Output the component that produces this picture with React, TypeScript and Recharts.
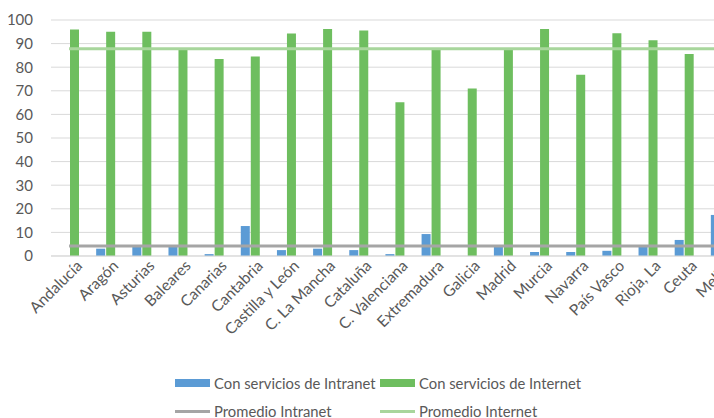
import React from "react";
import {
  ComposedChart,
  Bar,
  Line,
  XAxis,
  YAxis,
  CartesianGrid,
} from "recharts";

const regiones = [
  "Andalucía",
  "Aragón",
  "Asturias",
  "Baleares",
  "Canarias",
  "Cantabria",
  "Castilla y León",
  "C. La Mancha",
  "Cataluña",
  "C. Valenciana",
  "Extremadura",
  "Galicia",
  "Madrid",
  "Murcia",
  "Navarra",
  "País Vasco",
  "Rioja, La",
  "Ceuta",
  "Melilla",
];

const intranet = [0, 3.1, 4, 4, 0.8, 12.7, 2.5, 3.1, 2.5, 0.8, 9.3, 0, 4, 1.7, 1.7, 2.2, 4, 6.8, 17.4];
const internet = [96, 95, 95, 88, 83.5, 84.5, 94.3, 96.2, 95.5, 65.1, 87.3, 71, 87.3, 96.2, 76.8, 94.4, 91.4, 85.6, 85];
const promedioIntranet = 4.2;
const promedioInternet = 87.8;

const yTicks = [0, 10, 20, 30, 40, 50, 60, 70, 80, 90, 100];

const data = regiones.map((r, i) => ({
  region: r,
  intranet: intranet[i],
  internet: internet[i],
  pIntranet: promedioIntranet,
  pInternet: promedioInternet,
}));

const BLUE = "#5b9bd5";
const GREEN = "#6ebe5f";
const GRAY = "#a5a5a5";
const LGREEN = "#a8d69c";
const TEXT = "#595959";
const FONT = "Lato, 'Open Sans', sans-serif";

const XTick = (props: any) => {
  const { x, y, payload } = props;
  return (
    <g transform={`translate(${x},${y})`}>
      <text
        x={0}
        y={0}
        dx={8}
        dy={12}
        textAnchor="end"
        transform="rotate(-45)"
        fill={TEXT}
        fontSize={15.5}
        fontFamily={FONT}
      >
        {payload.value}
      </text>
    </g>
  );
};

const legendItems = [
  { label: "Con servicios de Intranet", color: BLUE, kind: "rect", left: 175, top: 374 },
  { label: "Con servicios de Internet", color: GREEN, kind: "rect", left: 380, top: 374 },
  { label: "Promedio Intranet", color: GRAY, kind: "line", left: 175, top: 402 },
  { label: "Promedio Internet", color: LGREEN, kind: "line", left: 380, top: 402 },
];

const ChartLegend = () => (
  <>
    {legendItems.map((it) => (
      <div
        key={it.label}
        style={{
          position: "absolute",
          left: it.left,
          top: it.top,
          height: 18,
          display: "flex",
          alignItems: "center",
          whiteSpace: "nowrap",
          fontFamily: FONT,
          fontSize: 14.8,
          color: TEXT,
        }}
      >
        <span
          style={{
            display: "inline-block",
            width: 35,
            height: it.kind === "rect" ? 8 : 3,
            background: it.color,
            marginRight: 4,
          }}
        />
        {it.label}
      </div>
    ))}
  </>
);

export default function App() {
  return (
    <div
      style={{
        position: "absolute",
        left: 0,
        top: 0,
        width: 714,
        height: 418,
        overflow: "hidden",
        background: "#fff",
      }}
    >
      <ComposedChart
        width={760}
        height={366}
        data={data}
        margin={{ top: 20, right: 22, left: 0, bottom: 0 }}
        barSize={9}
        barGap={1}
      >
        <CartesianGrid vertical={false} stroke="#d9d9d9" />
        <XAxis
          dataKey="region"
          interval={0}
          tick={<XTick />}
          tickLine={false}
          axisLine={{ stroke: "#d9d9d9" }}
          height={110}
        />
        <YAxis
          domain={[0, 100]}
          ticks={yTicks}
          width={51}
          tickLine={false}
          axisLine={false}
          tick={{ fill: TEXT, fontSize: 15, fontFamily: FONT }}
          tickMargin={12}
        />
        <Bar dataKey="intranet" name="Con servicios de Intranet" fill={BLUE} isAnimationActive={false} />
        <Bar dataKey="internet" name="Con servicios de Internet" fill={GREEN} isAnimationActive={false} />
        <Line
          dataKey="pIntranet"
          name="Promedio Intranet"
          stroke={GRAY}
          strokeWidth={3}
          dot={false}
          isAnimationActive={false}
        />
        <Line
          dataKey="pInternet"
          name="Promedio Internet"
          stroke={LGREEN}
          strokeWidth={3}
          dot={false}
          isAnimationActive={false}
        />
      </ComposedChart>
      <ChartLegend />
    </div>
  );
}
